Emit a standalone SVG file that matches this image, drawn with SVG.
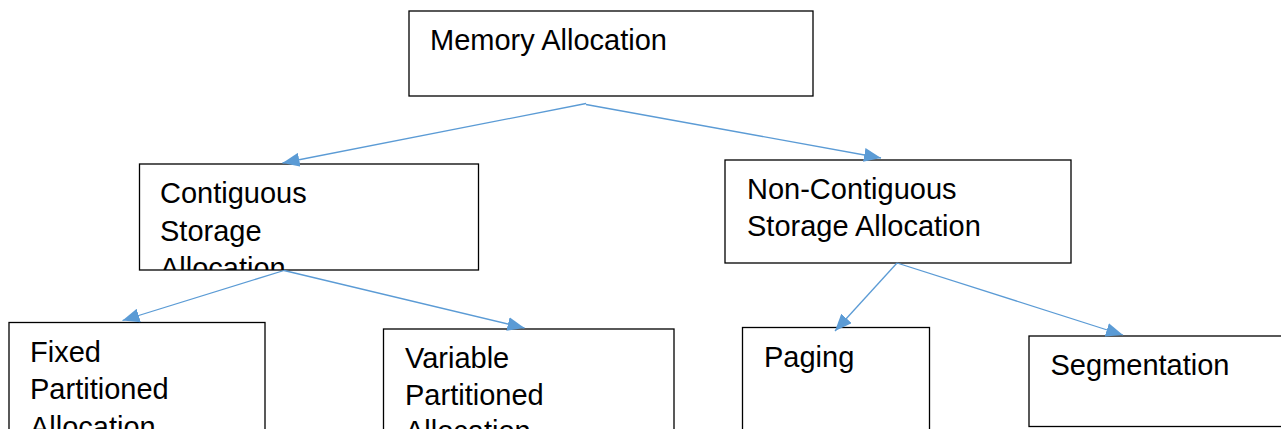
<svg xmlns="http://www.w3.org/2000/svg" width="1281" height="429" viewBox="0 0 1281 429">
  <style>
    .box { fill: #ffffff; stroke: #000000; stroke-width: 1.3; }
    .label { font-family: "Liberation Sans", Arial, sans-serif; font-size: 29px; fill: #000000; }
    .edge { stroke: #5B9BD5; stroke-width: 1.3; fill: none; marker-end: url(#arrow); }
  </style>
  <defs>
    <marker id="arrow" markerUnits="userSpaceOnUse" markerWidth="18" markerHeight="14" refX="17" refY="7" orient="auto">
      <path d="M0,0 L17,7 L0,14 Z" fill="#5B9BD5"/>
    </marker>
    <clipPath id="clip-contig">
      <rect x="139.5" y="164" width="339" height="106"/>
    </clipPath>
  </defs>

  <rect width="1281" height="429" fill="#ffffff"/>

  <g id="node-memory">
    <rect class="box" x="409" y="11" width="404" height="85"/>
    <text class="label" x="430" y="50">Memory Allocation</text>
  </g>

  <g id="node-contiguous">
    <rect class="box" x="139.5" y="164" width="339" height="106"/>
    <text class="label" clip-path="url(#clip-contig)" x="160" y="203">
      <tspan x="160" y="203">Contiguous</tspan>
      <tspan x="160" y="240.5">Storage</tspan>
      <tspan x="160" y="278">Allocation</tspan>
    </text>
  </g>

  <g id="node-noncontiguous">
    <rect class="box" x="725" y="160" width="346" height="103"/>
    <text class="label">
      <tspan x="747" y="199">Non-Contiguous</tspan>
      <tspan x="747" y="236">Storage Allocation</tspan>
    </text>
  </g>

  <g id="node-fixed">
    <rect class="box" x="9" y="322.5" width="256" height="130"/>
    <text class="label">
      <tspan x="30" y="361.5">Fixed</tspan>
      <tspan x="30" y="399">Partitioned</tspan>
      <tspan x="30" y="436.5">Allocation</tspan>
    </text>
  </g>

  <g id="node-variable">
    <rect class="box" x="383.5" y="329" width="290.5" height="130"/>
    <text class="label">
      <tspan x="405" y="368">Variable</tspan>
      <tspan x="405" y="404.5">Partitioned</tspan>
      <tspan x="405" y="441">Allocation</tspan>
    </text>
  </g>

  <g id="node-paging">
    <rect class="box" x="742.5" y="327.5" width="187" height="130"/>
    <text class="label" x="764" y="366.5">Paging</text>
  </g>

  <g id="node-segmentation">
    <rect class="box" x="1029" y="336" width="260" height="90.5"/>
    <text class="label" x="1050.5" y="375">Segmentation</text>
  </g>

  <g id="connectors">
    <line class="edge" x1="586" y1="103.5" x2="282.5" y2="163"/>
    <line class="edge" x1="586" y1="104.5" x2="881" y2="158"/>
    <line class="edge" x1="284" y1="270.5" x2="122.5" y2="320.5"/>
    <line class="edge" x1="284" y1="270.5" x2="524.5" y2="328"/>
    <line class="edge" x1="897" y1="263" x2="835" y2="331"/>
    <line class="edge" x1="897" y1="263" x2="1123" y2="335"/>
  </g>
</svg>
